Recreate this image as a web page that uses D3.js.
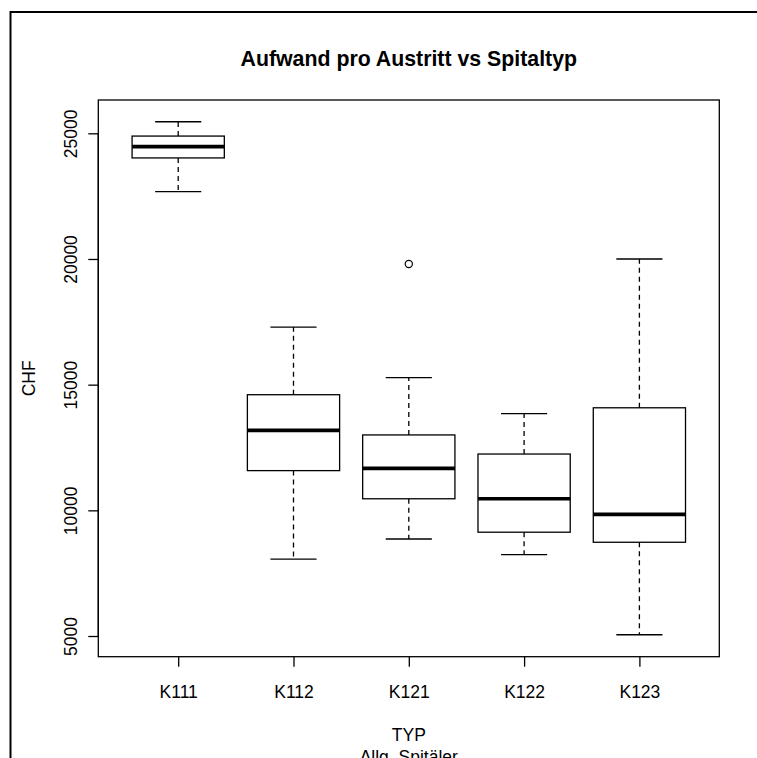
<!DOCTYPE html>
<html>
<head>
<meta charset="utf-8">
<script src="https://cdn.jsdelivr.net/npm/d3@7"></script>
<style>
  html, body { margin: 0; padding: 0; background: #fff; }
  svg { display: block; }
  text { font-family: "Liberation Sans", Arial, Helvetica, sans-serif; fill: #000; }
</style>
</head>
<body>
<script>
// ---- data ----
const categories = ["K111", "K112", "K121", "K122", "K123"];
const lowerWhisker = [22680, 8060, 8860, 8240, 5050];
const q1 = [24020, 11580, 10460, 9130, 8730];
const medians = [24470, 13180, 11670, 10460, 9840];
const q3 = [24890, 14600, 13000, 12240, 14080];
const upperWhisker = [25460, 17290, 15280, 13850, 20000];
const outliers = [[], [], [19800], [], []];
const yTicks = [5000, 10000, 15000, 20000, 25000];
const title = "Aufwand pro Austritt vs Spitaltyp";
const yLabel = "CHF";
const xLabel = "TYP";
const subLabel = "Allg. Spitäler";

// ---- layout ----
const W = 757, H = 758;
const plot = { left: 98.3, right: 719.3, top: 100, bottom: 656.7 };
const axisFont = "17.5px";

const svg = d3.select("body").append("svg").attr("width", W).attr("height", H);

// outer figure border (continues beyond the visible area)
svg.append("rect")
  .attr("x", 10.5).attr("y", 12)
  .attr("width", W + 20).attr("height", H + 20)
  .attr("fill", "none").attr("stroke", "#000").attr("stroke-width", 2);

const x = d3.scalePoint().domain(categories)
  .range([plot.left, plot.right]).padding(0.693);
const y = d3.scaleLinear().domain([4177, 26325]).range([plot.bottom, plot.top]);

const boxW = x.step() * 0.8;
const capW = boxW / 2;
const lw = 1.3;

const data = categories.map((c, i) => ({
  cat: c, lo: lowerWhisker[i], q1: q1[i], med: medians[i], q3: q3[i], hi: upperWhisker[i], out: outliers[i]
}));

const g = svg.append("g");

data.forEach(d => {
  const cx = x(d.cat);
  const gg = g.append("g");
  // whiskers (dashed)
  gg.append("line").attr("x1", cx).attr("x2", cx).attr("y1", y(d.q3)).attr("y2", y(d.hi))
    .attr("stroke", "#000").attr("stroke-width", lw).attr("stroke-dasharray", "5,4");
  gg.append("line").attr("x1", cx).attr("x2", cx).attr("y1", y(d.q1)).attr("y2", y(d.lo))
    .attr("stroke", "#000").attr("stroke-width", lw).attr("stroke-dasharray", "5,4");
  // staples
  [d.hi, d.lo].forEach(v => {
    gg.append("line").attr("x1", cx - capW / 2).attr("x2", cx + capW / 2)
      .attr("y1", y(v)).attr("y2", y(v)).attr("stroke", "#000").attr("stroke-width", lw);
  });
  // box
  gg.append("rect").attr("x", cx - boxW / 2).attr("y", y(d.q3))
    .attr("width", boxW).attr("height", y(d.q1) - y(d.q3))
    .attr("fill", "#fff").attr("stroke", "#000").attr("stroke-width", lw);
  // median
  gg.append("line").attr("x1", cx - boxW / 2).attr("x2", cx + boxW / 2)
    .attr("y1", y(d.med)).attr("y2", y(d.med)).attr("stroke", "#000").attr("stroke-width", 3.6);
  // outliers
  d.out.forEach(v => {
    gg.append("circle").attr("cx", cx).attr("cy", y(v)).attr("r", 3.6)
      .attr("fill", "none").attr("stroke", "#000").attr("stroke-width", 1.2);
  });
});

// plot frame
svg.append("rect").attr("x", plot.left).attr("y", plot.top)
  .attr("width", plot.right - plot.left).attr("height", plot.bottom - plot.top)
  .attr("fill", "none").attr("stroke", "#000").attr("stroke-width", lw);

// y axis
const yAxis = d3.axisLeft(y).tickValues(yTicks).tickSize(10).tickSizeOuter(0).tickFormat(d3.format("d"));
const yg = svg.append("g").attr("transform", `translate(${plot.left},0)`).call(yAxis);
yg.select(".domain").attr("d", `M0,${y(yTicks[0])}V${y(yTicks[yTicks.length - 1])}`)
  .attr("stroke-width", lw);
yg.selectAll(".tick line").attr("stroke-width", lw);
yg.selectAll(".tick text")
  .attr("x", null).attr("dy", null)
  .attr("transform", "translate(-21,0) rotate(-90)")
  .attr("text-anchor", "middle")
  .style("font-size", axisFont).style("font-family", "'Liberation Sans', Arial, sans-serif");

// x axis
const xAxis = d3.axisBottom(x).tickSize(10).tickSizeOuter(0);
const xg = svg.append("g").attr("transform", `translate(0,${plot.bottom})`).call(xAxis);
xg.select(".domain").remove();
xg.selectAll(".tick line").attr("stroke-width", lw);
xg.selectAll(".tick text").attr("y", 41).attr("dy", null)
  .style("font-size", axisFont).style("font-family", "'Liberation Sans', Arial, sans-serif");

// title
const cxPlot = (plot.left + plot.right) / 2;
svg.append("text").attr("x", cxPlot).attr("y", 66).attr("text-anchor", "middle")
  .style("font-size", "21.3px").style("font-weight", "bold").text(title);

// y label
svg.append("text").attr("transform", `translate(35,${(plot.top + plot.bottom) / 2}) rotate(-90)`)
  .attr("text-anchor", "middle").style("font-size", axisFont).text(yLabel);

// x label
svg.append("text").attr("x", cxPlot).attr("y", 741).attr("text-anchor", "middle")
  .style("font-size", axisFont).text(xLabel);
svg.append("text").attr("x", cxPlot).attr("y", 762.5).attr("text-anchor", "middle")
  .style("font-size", axisFont).text(subLabel);
</script>
</body>
</html>
